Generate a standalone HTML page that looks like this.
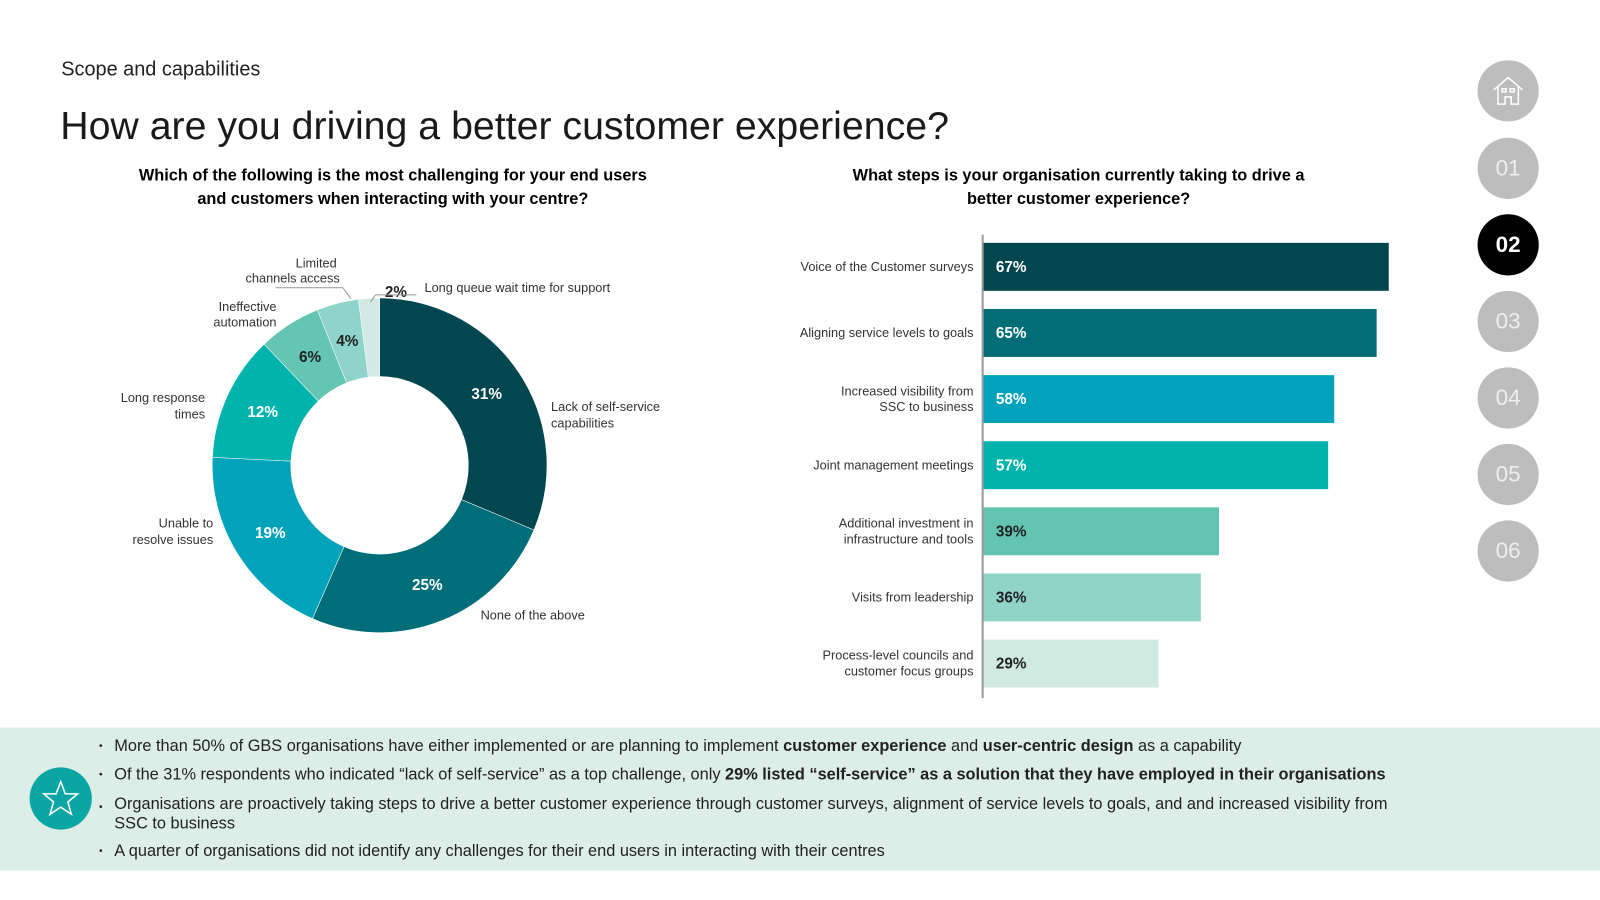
<!DOCTYPE html>
<html><head><meta charset="utf-8">
<style>
html,body{margin:0;padding:0;background:#fff;overflow:hidden;}
body{width:1600px;height:900px;font-family:"Liberation Sans",sans-serif;}
#wrap{position:absolute;left:0;top:0;width:1568px;height:882px;transform:scale(1.0204);transform-origin:0 0;}
.abs{position:absolute;}
.nav{position:absolute;left:1448px;width:60px;height:60px;border-radius:50%;background:#bdbdbd;color:#eee;font-size:22px;line-height:60px;text-align:center;}
.band{position:absolute;left:0;top:713px;width:1568px;height:140px;background:#ddeee9;}
.bul{position:absolute;left:112px;font-size:16px;color:#222;white-space:nowrap;}
.bul:before{content:"•";position:absolute;left:-15px;font-size:10px;top:3px;}
</style></head><body>
<div id="wrap">
<div class="abs" style="left:60px;top:57px;font-size:19.5px;color:#222">Scope and capabilities</div>
<div class="abs" style="left:59px;top:102px;font-size:38.5px;color:#1a1a1a">How are you driving a better customer experience?</div>
<div class="abs" style="left:85px;top:161px;width:600px;text-align:center;font-size:16px;font-weight:bold;line-height:23px">Which of the following is the most challenging for your end users<br>and customers when interacting with your centre?</div>
<div class="abs" style="left:757px;top:161px;width:600px;text-align:center;font-size:16px;font-weight:bold;line-height:23px">What steps is your organisation currently taking to drive a<br>better customer experience?</div>

<svg class="abs" style="left:0;top:0" width="1568" height="713" id="charts" font-family="Liberation Sans, sans-serif">
<g id="donut"></g>
<g id="bars"></g>
<g font-size="12.5" fill="#333">
<text x="540" y="403">Lack of self-service</text><text x="540" y="419">capabilities</text>
<text x="471" y="607">None of the above</text>
<text x="209" y="517" text-anchor="end">Unable to</text><text x="209" y="533" text-anchor="end">resolve issues</text>
<text x="201" y="394" text-anchor="end">Long response</text><text x="201" y="410" text-anchor="end">times</text>
<text x="271" y="305" text-anchor="end">Ineffective</text><text x="271" y="320" text-anchor="end">automation</text>
<text x="330" y="262" text-anchor="end">Limited</text><text x="333" y="277" text-anchor="end">channels access</text>
<text x="416" y="286">Long queue wait time for support</text>
</g>
<g stroke="#999" stroke-width="1" fill="none">
<polyline points="270,282 336,282 344,293"/>
<polyline points="408,289 368,289 363,296"/>
</g>
</svg>

<div class="nav" style="top:59px"><svg width="34" height="34" viewBox="0 0 34 34" style="margin-top:13px" fill="none" stroke="#fff" stroke-width="1.5"><path d="M3 16 L17 4 L31 16 M7 13 V30 H14 V23 H20 V30 H27 V13"/><rect x="11" y="15" width="4" height="3"/><rect x="19" y="15" width="4" height="3"/></svg></div>
<div class="nav" style="top:135px">01</div>
<div class="nav" style="top:210px;background:#000;color:#fff;font-weight:bold">02</div>
<div class="nav" style="top:285px">03</div>
<div class="nav" style="top:360px">04</div>
<div class="nav" style="top:435px">05</div>
<div class="nav" style="top:510px">06</div>

<div class="band"></div>
<div class="abs" style="left:29px;top:752px;width:61px;height:61px;border-radius:50%;background:#0ba6a3"><svg width="61" height="61" viewBox="0 0 61 61"><polygon points="30.5,14 35,26 47,26 37.5,34 41,46 30.5,39 20,46 23.5,34 14,26 26,26" fill="none" stroke="#fff" stroke-width="1.5"/></svg></div>
<div class="bul" style="top:723px">More than 50% of GBS organisations have either implemented or are planning to implement <b>customer experience</b> and <b>user-centric design</b> as a capability</div>
<div class="bul" style="top:751px">Of the 31% respondents who indicated “lack of self-service” as a top challenge, only <b>29% listed “self-service” as a solution that they have employed in their organisations</b></div>
<div class="bul" style="top:779px;line-height:19px">Organisations are proactively taking steps to drive a better customer experience through customer surveys, alignment of service levels to goals, and and increased visibility from<br>SSC to business</div>
<div class="bul" style="top:826px">A quarter of organisations did not identify any challenges for their end users in interacting with their centres</div>
</div>

<script>
const donutLabels = ["Lack of self-service capabilities","None of the above","Unable to resolve issues","Long response times","Ineffective automation","Limited channels access","Long queue wait time for support"];
const donutValues = [31,25,19,12,6,4,2];
const donutColors = ["#02464f","#006e78","#00a3b9","#00b4ad","#63c5b2","#8fd4ca","#d2eae3"];
const barLabels = [["Voice of the Customer surveys"],["Aligning service levels to goals"],["Increased visibility from","SSC to business"],["Joint management meetings"],["Additional investment in","infrastructure and tools"],["Visits from leadership"],["Process-level councils and","customer focus groups"]];
const barValues = [67,65,58,57,39,36,29];
const barColors = ["#02464f","#006d77","#00a3bb","#00b3ac","#62c4b1","#8fd3c9","#d0e9e1"];

const NS="http://www.w3.org/2000/svg";
function mk(tag,attrs,parent){const e=document.createElementNS(NS,tag);for(const k in attrs)e.setAttribute(k,attrs[k]);parent.appendChild(e);return e;}

const dg=document.getElementById('donut');
const cx=372,cy=456,R=164,r=87;
const total=donutValues.reduce((a,b)=>a+b,0);
function pt(rad,a){return [cx+rad*Math.sin(a),cy-rad*Math.cos(a)];}
let acc=0;
donutValues.forEach((v,i)=>{
  const a0=acc/total*2*Math.PI;acc+=v;const a1=acc/total*2*Math.PI;
  const large=(a1-a0)>Math.PI?1:0;
  const p0=pt(R,a0),p1=pt(R,a1),q1=pt(r,a1),q0=pt(r,a0);
  const path=mk('path',{d:`M${p0[0]},${p0[1]} A${R},${R} 0 ${large} 1 ${p1[0]},${p1[1]} L${q1[0]},${q1[1]} A${r},${r} 0 ${large} 0 ${q0[0]},${q0[1]} Z`,fill:donutColors[i],stroke:'#fff','stroke-width':0.5},dg);
  
  
  const am=(a0+a1)/2;
  let lp=pt(126,am);
  let fill=i<4?'#fff':'#222';
  if(v<=2){lp=[388,286];}
  const t=mk('text',{x:lp[0],y:lp[1]+5,'text-anchor':'middle','font-size':15,'font-weight':'bold',fill:fill},dg);
  t.textContent=v+'%';
  
  
});

const bg=document.getElementById('bars');
const x0=963,pxPer=(1361-963)/67,y0=238,pitch=64.8,bh=47;
const xs=v=>x0+v*pxPer;
barValues.forEach((v,i)=>{
  const y=y0+i*pitch;
  const rect=mk('rect',{x:x0,y:y,width:xs(v)-x0,height:bh,fill:barColors[i]},bg);
  
  
  const t=mk('text',{x:x0+13,y:y+bh/2+5,'font-size':15,'font-weight':'bold',fill:i<4?'#fff':'#222'},bg);
  t.textContent=v+'%';
  
  
  const lines=barLabels[i];
  lines.forEach((ln,j)=>{
    const ty=y+bh/2+4+(j-(lines.length-1)/2)*15.5;
    const lt=mk('text',{x:954,y:ty,'text-anchor':'end','font-size':12.5,fill:'#333'},bg);
    lt.textContent=ln;
    
    
  });
});
const ax=mk('line',{x1:x0,x2:x0,y1:230,y2:684,stroke:'#999','stroke-width':2},bg);


</script>
</body></html>
